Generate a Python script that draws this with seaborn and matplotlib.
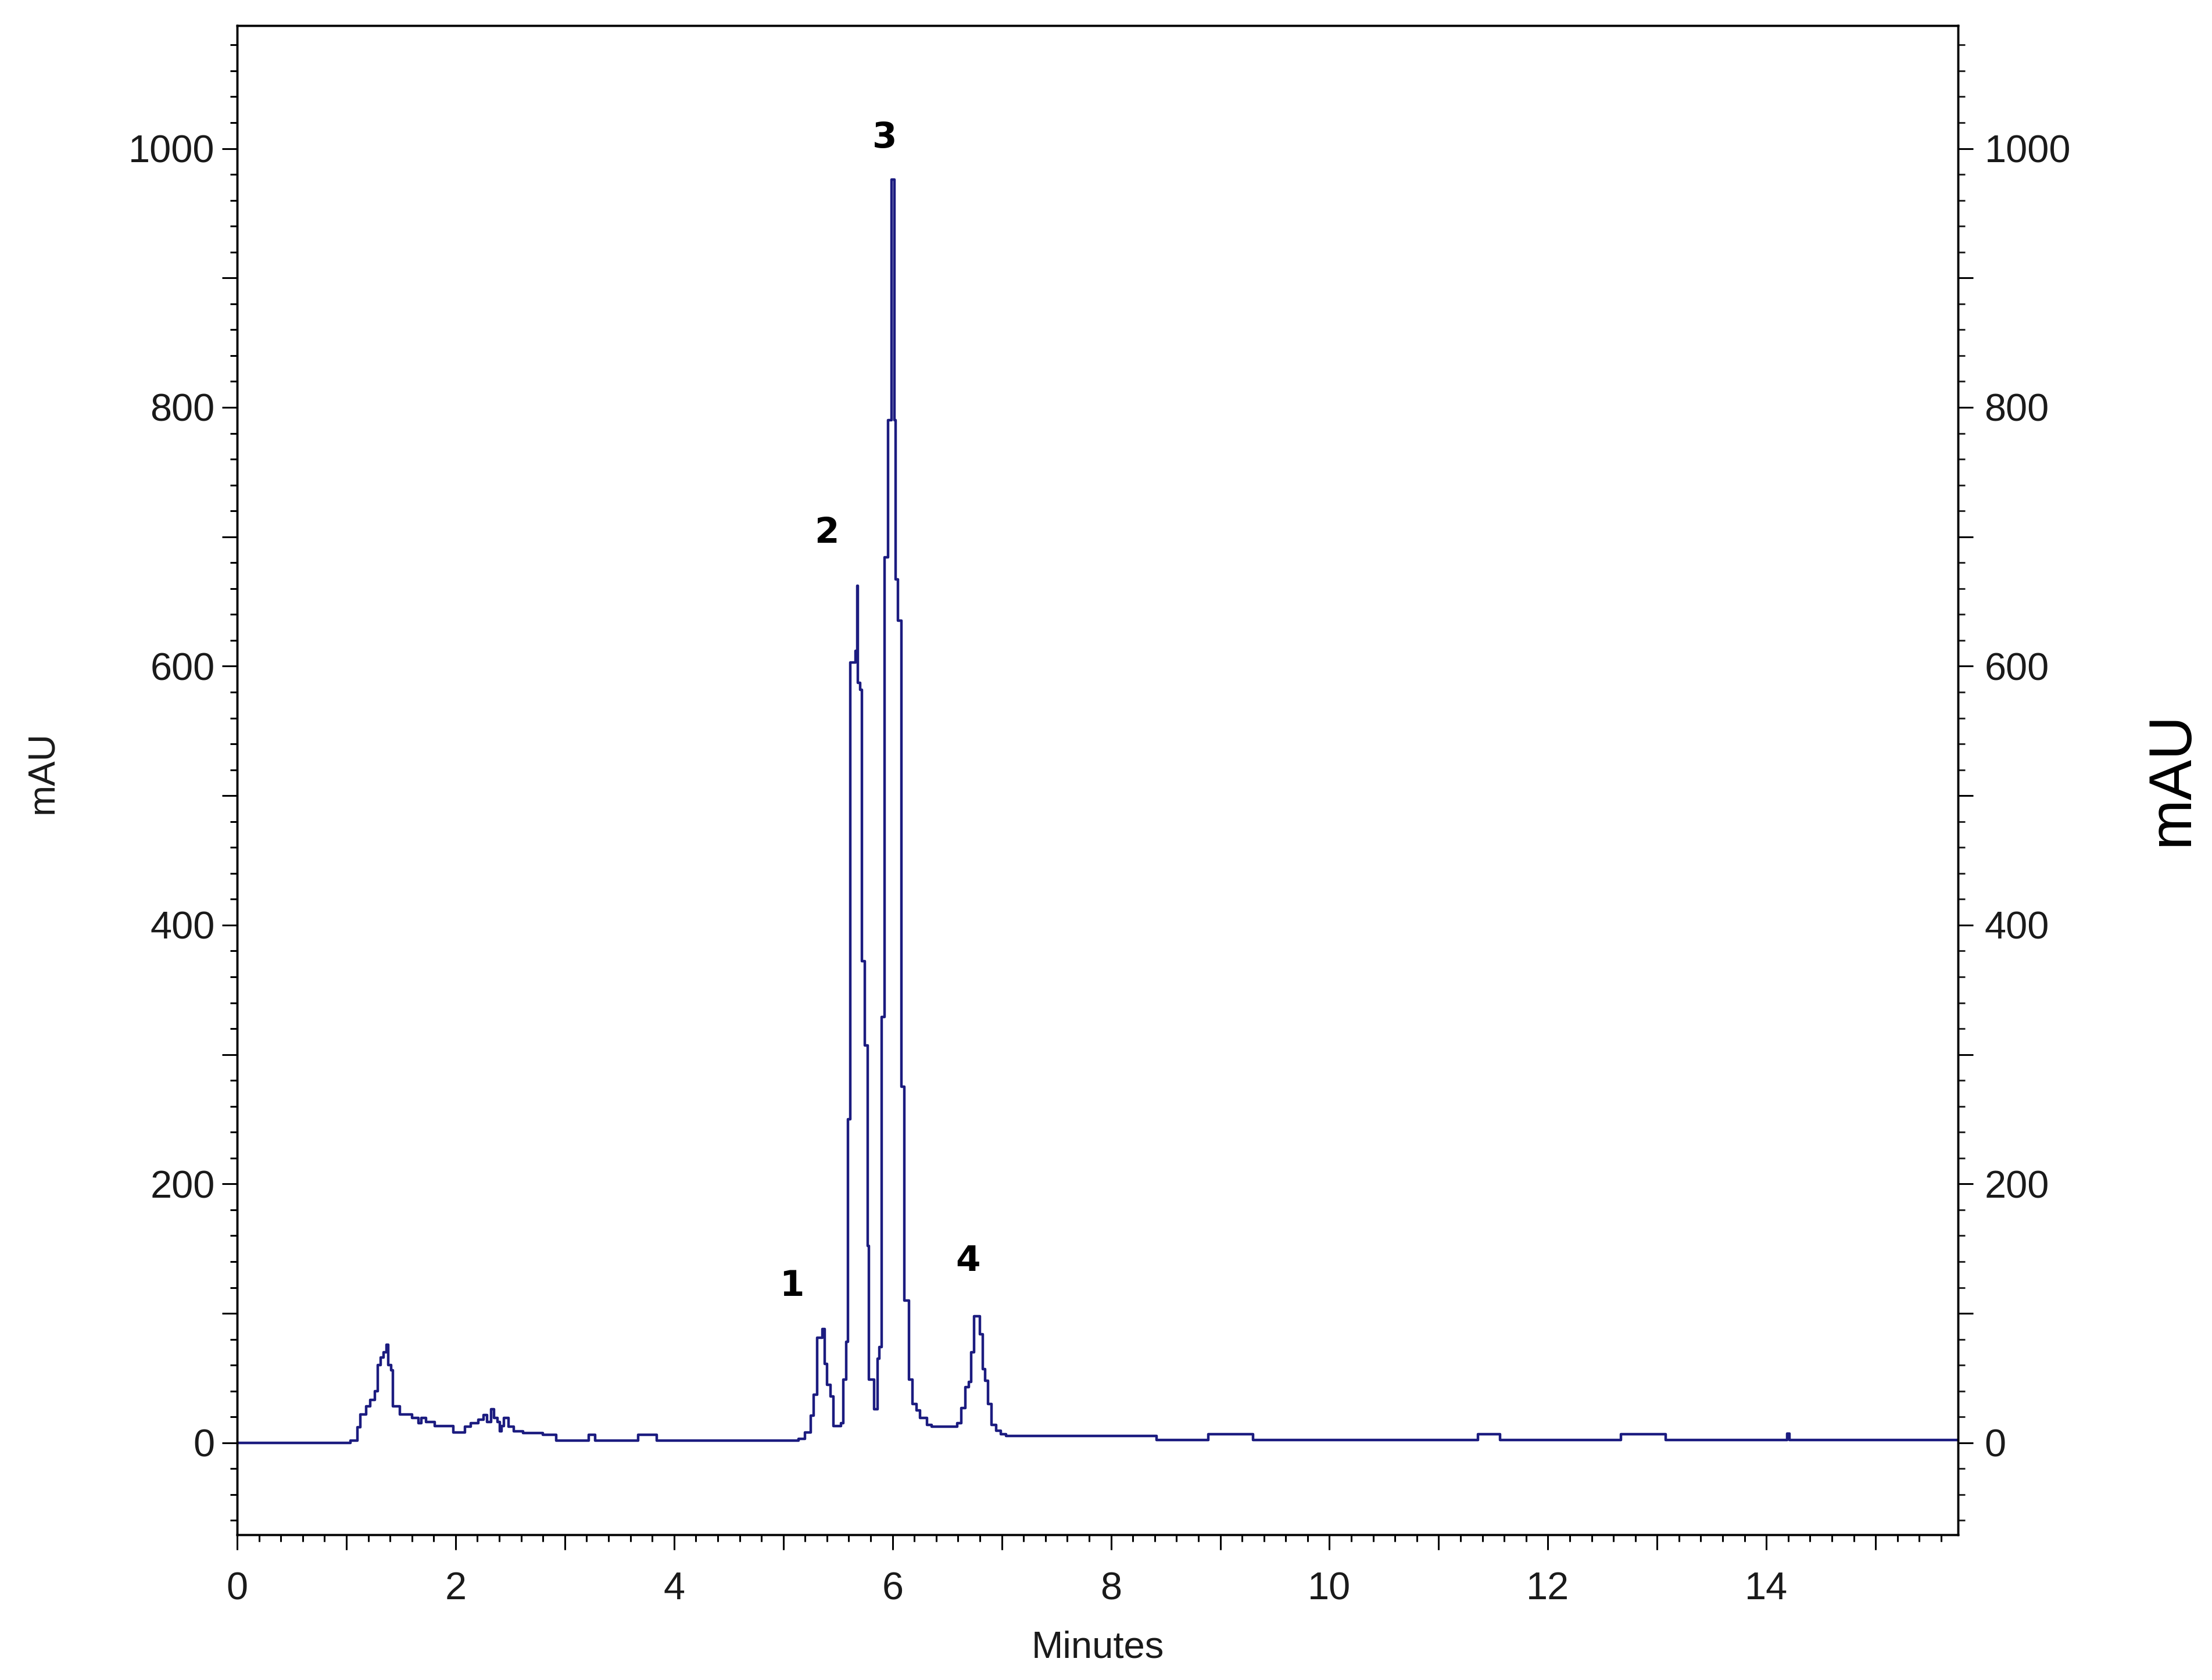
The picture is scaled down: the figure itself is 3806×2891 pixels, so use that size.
import matplotlib
matplotlib.use("Agg")
import pandas as pd
import matplotlib.pyplot as plt
from matplotlib.ticker import MultipleLocator, FuncFormatter
import seaborn as sns

# chromatogram trace (value held until the next time point)
minutes = [
    0.00, 1.04, 1.10, 1.13, 1.18, 1.22, 1.26, 1.29, 1.315, 1.34, 1.365, 1.385,
    1.41, 1.425, 1.49, 1.60, 1.66, 1.685, 1.73, 1.81, 1.98, 2.085, 2.14, 2.21,
    2.255, 2.29, 2.325, 2.35, 2.385, 2.405, 2.42, 2.44, 2.485, 2.53, 2.62, 2.80,
    2.92, 3.22, 3.28, 3.67, 3.84, 5.14, 5.20, 5.25, 5.28, 5.31, 5.36, 5.38,
    5.40, 5.43, 5.46, 5.53, 5.55, 5.575, 5.59, 5.615, 5.66, 5.675, 5.685, 5.705,
    5.72, 5.745, 5.775, 5.785, 5.83, 5.865, 5.88, 5.90, 5.925, 5.96, 5.99, 6.02,
    6.03, 6.05, 6.08, 6.11, 6.15, 6.18, 6.22, 6.25, 6.315, 6.36, 6.59, 6.63,
    6.665, 6.70, 6.72, 6.745, 6.80, 6.825, 6.85, 6.875, 6.905, 6.95, 6.99, 7.04,
    8.42, 8.89, 9.30, 11.36, 11.56, 12.67, 13.08, 14.19, 14.21, 15.76,
]
mau = [
    0, 1.5, 12, 22, 28, 33, 40, 60, 66, 70, 76, 60,
    56, 28, 22, 19, 15, 19, 16, 13, 8, 12.5, 15, 18,
    21.5, 16, 26, 19, 16, 9, 13, 19, 12.5, 9, 7.5, 6,
    1.5, 6, 1.5, 6, 1.5, 3, 8, 21, 37, 81, 88, 61,
    45, 36, 13, 15, 49, 78, 250, 603, 612, 662, 587, 582,
    372, 307, 152, 49, 26, 65, 74, 329, 684, 790, 976, 790,
    667, 635, 275, 110, 49, 30, 25, 19, 14, 12.5, 15, 27,
    43, 47, 70, 98, 84, 57, 48, 30, 14, 9.5, 6.5, 5.5,
    2, 6.5, 2, 6.5, 2, 6.5, 2, 7, 2, 2,
]

peak_ids = ["1", "2", "3", "4"]
peak_x = [5.08, 5.40, 5.93, 6.69]
peak_y = [121, 703, 1008, 140]

df = pd.DataFrame({"Minutes": minutes, "mAU": mau})

sns.set_style("ticks")
plt.rcParams["font.family"] = ["Liberation Sans", "DejaVu Sans"]
text_color = "#1a1a1a"

fig = plt.figure(figsize=(38.06, 28.91), dpi=100)
ax = fig.add_axes([0.1072, 0.0865, 0.7780, 0.8983])

sns.lineplot(data=df, x="Minutes", y="mAU", ax=ax, estimator=None, sort=False,
             drawstyle="steps-post", color="#1c1c80", linewidth=3.2)

ax.set_xlim(0, 15.755)
ax.set_ylim(-71, 1095)

ax2 = ax.twinx()
ax2.set_ylim(ax.get_ylim())

even_x = FuncFormatter(lambda v, p: f"{v:.0f}" if round(v) % 2 == 0 else "")
even_y = FuncFormatter(lambda v, p: f"{v:.0f}" if round(v) % 200 == 0 else "")

ax.xaxis.set_major_locator(MultipleLocator(1))
ax.xaxis.set_minor_locator(MultipleLocator(0.2))
ax.xaxis.set_major_formatter(even_x)
for a in (ax, ax2):
    a.yaxis.set_major_locator(MultipleLocator(100))
    a.yaxis.set_minor_locator(MultipleLocator(20))
    a.yaxis.set_major_formatter(even_y)
    for s in a.spines.values():
        s.set_linewidth(2.5)
        s.set_color("black")

ax.tick_params(axis="both", which="major", direction="out", length=18.7, width=2.2,
               labelsize=48, colors="black", labelcolor=text_color)
ax.tick_params(axis="both", which="minor", direction="out", length=8.6, width=2.2,
               colors="black")
ax.tick_params(axis="x", which="major", pad=27)
ax.tick_params(axis="y", which="major", pad=9)
ax.tick_params(top=False, right=False, which="both")
ax2.tick_params(axis="y", which="major", direction="out", length=18.7, width=2.2,
                labelsize=48, pad=14, colors="black", labelcolor=text_color)
ax2.tick_params(axis="y", which="minor", direction="out", length=8.6, width=2.2)

ax.set_xlabel("Minutes", fontsize=47, color=text_color)
ax.xaxis.label.set_va("center")
ax.xaxis.set_label_coords(0.5, -0.075)

ax.set_ylabel("mAU", fontsize=46, color=text_color)
ax.yaxis.label.set_rotation_mode("default")
ax.yaxis.label.set_va("center")
ax.yaxis.set_label_coords(-0.113, 0.505)

ax2.set_ylabel("mAU", fontsize=75, color="black", rotation=90)
ax2.yaxis.label.set_rotation_mode("default")
ax2.yaxis.label.set_va("center")
ax2.yaxis.set_label_coords(1.1246, 0.501)

for lab, px, py in zip(peak_ids, peak_x, peak_y):
    ax.text(px, py, lab, ha="center", va="center", fontsize=44, fontweight="bold",
            family="DejaVu Sans", color="black")

fig.savefig("out.png", dpi=100)
plt.close(fig)
